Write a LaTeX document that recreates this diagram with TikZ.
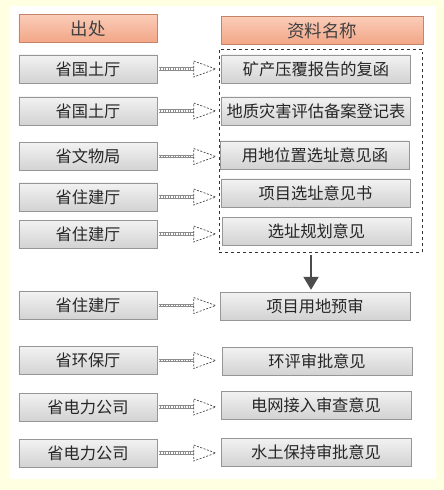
\documentclass[tikz,border=0pt]{standalone}
\usepackage{fontspec}
\newfontfamily\cjk{Noto Sans CJK SC}
\usetikzlibrary{calc,arrows.meta}
\definecolor{paper}{RGB}{255,255,226}
\definecolor{salmontop}{RGB}{250,204,184}
\definecolor{salmonbot}{RGB}{242,166,134}
\definecolor{salmonline}{RGB}{196,132,104}
\definecolor{boxline}{RGB}{150,150,150}

\begin{document}
\begin{tikzpicture}[x=1bp,y=-1bp,
    title/.style={draw=salmonline,top color=salmontop,bottom color=salmonbot,minimum height=28bp,inner sep=0pt,font=\cjk\fontsize{17.5}{20}\selectfont,text=black!75},
    item/.style={draw=boxline,top color=gray!10,bottom color=gray!35,minimum height=28bp,inner sep=0pt,font=\cjk\fontsize{16.3}{19}\selectfont,text=black!85},
    src/.style={item,minimum width=138bp},
    doc/.style={item,minimum width=189bp},
    group/.style={draw=black!80,dashed,line width=0.6bp},
    shaft/.style={draw=gray!90,line width=3.8bp,postaction={draw=white,line width=1.2bp,dash pattern=on 1.5bp off 1bp}},
    hollow/.style={draw=black!70,dash pattern=on 2bp off 1.5bp,line width=0.7bp,fill=white}]

        \useasboundingbox (0,0) rectangle (444,490);
        \fill[paper] (0,0) rectangle (444,490);
        \fill[white] (9,6) rectangle (436,479);

        % Headers
        \node[title,minimum width=138bp] (h1) at (88,28.5) {出处};
        \node[title,minimum width=202bp] (h2) at (322,30.5) {资料名称};

        % Dashed group round the first five documents
        \node[group,minimum width=203bp,minimum height=203bp] (grp) at (320.5,150.5) {};

        % Sources
        \node[src] (l1) at (88,69) {省国土厅};
        \node[src] (l2) at (88,111) {省国土厅};
        \node[src] (l3) at (88,156.5) {省文物局};
        \node[src] (l4) at (88,197) {省住建厅};
        \node[src] (l5) at (88,234) {省住建厅};
        \node[src] (l6) at (88,305.5) {省住建厅};
        \node[src] (l7) at (88,360.5) {省环保厅};
        \node[src] (l8) at (88,407) {省电力公司};
        \node[src] (l9) at (88,453) {省电力公司};

        % Documents
        \node[doc] (r1) at (316,69) {矿产压覆报告的复函};
        \node[doc] (r2) at (316,111) {地质灾害评估备案登记表};
        \node[doc] (r3) at (315,155) {用地位置选址意见函};
        \node[doc] (r4) at (315.5,193) {项目选址意见书};
        \node[doc] (r5) at (316.5,231) {选址规划意见};
        \node[doc,minimum width=190bp] (r6) at (315,306) {项目用地预审};
        \node[doc,minimum width=190bp] (r7) at (317,361) {环评审批意见};
        \node[doc,minimum width=190bp] (r8) at (316,405) {电网接入审查意见};
        \node[doc,minimum width=190bp] (r9) at (316,452) {水土保持审批意见};

        % Draw hollow arrows from each source
        \foreach \i in {1,...,9} {
            \path (l\i.east) ++(1.5,0) coordinate (a\i) ++(35,0) coordinate (b\i) ++(22,0) coordinate (c\i);
            \draw[shaft] (a\i) -- (b\i);
            \draw[hollow] ($(b\i)+(0,-8)$) -- (c\i) -- ($(b\i)+(0,8)$) -- cycle;
        }

        % Group leads to the pre-examination
        \coordinate (ax) at (311,0);
        \draw[black!70,line width=2bp,-{Triangle[length=13bp,width=15bp]}] ([yshift=-3bp]grp.south -| ax) -- ([yshift=2bp]r6.north -| ax);
    \end{tikzpicture}
\end{document}
